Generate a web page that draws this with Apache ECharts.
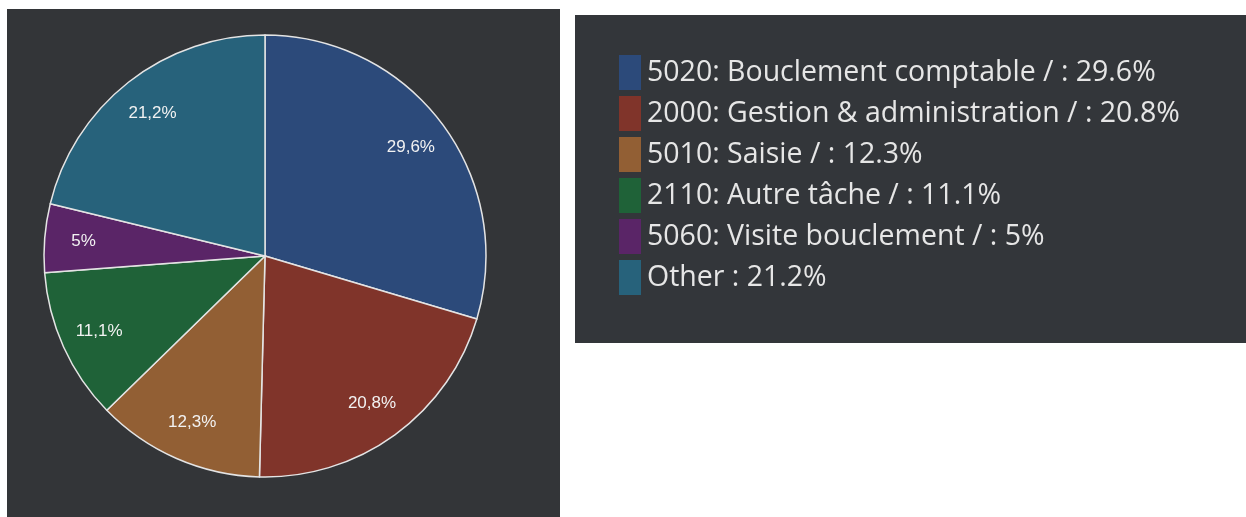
<!DOCTYPE html>
<html>
<head>
<meta charset="utf-8">
<script src="https://cdn.jsdelivr.net/npm/echarts@6/dist/echarts.min.js"></script>
<style>
  html, body { margin: 0; padding: 0; background: #fff; }
  #chart { width: 1246px; height: 517px; }
</style>
</head>
<body>
<div id="chart"></div>
<script>
var categories = [
  '5020: Bouclement comptable /',
  '2000: Gestion & administration /',
  '5010: Saisie /',
  '2110: Autre tâche /',
  '5060: Visite bouclement /',
  'Other'
]
var values = [29.6, 20.8, 12.3, 11.1, 5, 21.2]
var colors = ['#2c4a7a', '#80342a', '#925f34', '#1f6238', '#5a2567', '#27627b']

var chart = echarts.init(document.getElementById('chart'))

var pieData = categories.map(function (name, i) {
  return { name: name, value: values[i], itemStyle: { color: colors[i] } }
})

chart.setOption({
  backgroundColor: '#ffffff',
  animation: false,
  graphic: [
    { type: 'rect', z: -10, shape: { x: 7, y: 9, width: 553, height: 508 }, style: { fill: '#333538' } },
    { type: 'rect', z: -10, shape: { x: 575, y: 15, width: 671, height: 328 }, style: { fill: '#33363a' } }
  ],
  legend: {
    orient: 'vertical',
    left: 619,
    top: 55,
    padding: 0,
    itemWidth: 22,
    itemHeight: 35,
    itemGap: 6,
    icon: 'rect',
    selectedMode: false,
    data: categories,
    itemStyle: { borderWidth: 0 },
    formatter: function (name) {
      var i = categories.indexOf(name)
      return name + ' : ' + values[i] + '%'
    },
    textStyle: {
      color: '#e6e6e6',
      fontSize: 28.5,
      fontFamily: 'Open Sans',
      padding: [3, 0, 0, 1]
    }
  },
  series: [
    {
      type: 'pie',
      center: [265, 256],
      radius: [0, 221],
      startAngle: 90,
      clockwise: true,
      silent: true,
      data: pieData,
      label: { show: false },
      labelLine: { show: false },
      itemStyle: { borderColor: '#e4e4e4', borderWidth: 1.5 }
    },
    {
      // transparent ring, only used to place the labels at ~0.81 of the radius
      type: 'pie',
      center: [265, 256],
      radius: [137, 221],
      startAngle: 90,
      clockwise: true,
      silent: true,
      legendHoverLink: false,
      data: categories.map(function (name, i) {
        return { name: name, value: values[i] }
      }),
      itemStyle: { color: 'rgba(0,0,0,0)', borderWidth: 0 },
      label: {
        show: true,
        position: 'inner',
        color: '#f2f2f2',
        fontSize: 17,
        fontFamily: 'Liberation Sans',
        formatter: function (p) {
          return String(p.value).replace('.', ',') + '%'
        }
      },
      labelLine: { show: false }
    }
  ]
})
</script>
</body>
</html>
